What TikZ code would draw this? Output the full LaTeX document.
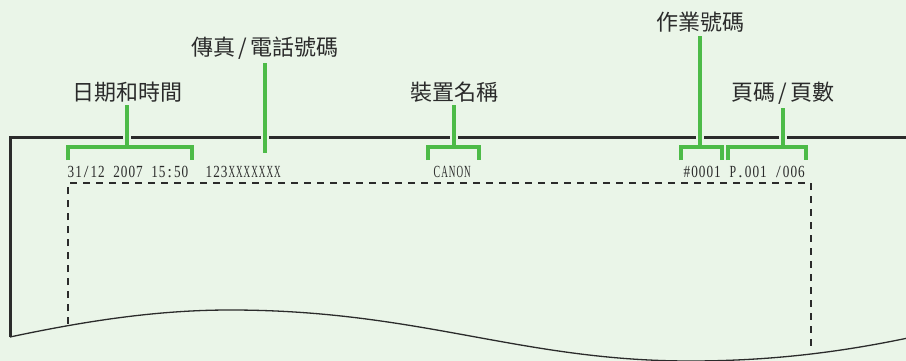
\documentclass[tikz,border=0pt]{standalone}
\usepackage{fontspec}
\usepackage{graphicx}
\setmainfont{Liberation Serif}
\newfontfamily\cjk{Noto Sans CJK TC}
\definecolor{bg}{HTML}{EAF5E8}
\definecolor{grn}{HTML}{4DBB48}
\definecolor{ink}{HTML}{2B2B2B}
\newlength\mcw
\newcommand\mch[1]{\settowidth\mcw{#1}%
  \ifdim\mcw>6.6pt\makebox[7.6pt]{\resizebox{6.6pt}{\height}{#1}}\else\makebox[7.6pt]{#1}\fi}
\def\mono#1{\monoi#1\relax}
\def\monoi#1{\ifx#1\relax\else\mch{#1}\expandafter\monoi\fi}
\begin{document}
\begin{tikzpicture}[x=1pt,y=-1pt,
  lbl/.style={font=\cjk\fontsize{22}{22}\selectfont, text=ink, inner sep=0pt, anchor=base},
  prt/.style={font=\fontsize{17}{17}\selectfont, text=ink, inner sep=0pt, anchor=base west},
  stem/.style={draw=grn, line width=4pt},
  halo/.style={draw=bg, line width=8pt},
  bracket/.style={draw=grn, line width=4pt, line join=miter},
  paper/.style={draw=ink, line width=3pt},
  edgeline/.style={draw=ink, line width=1.3pt},
  dashline/.style={draw=ink, line width=2pt, dash pattern=on 7pt off 6pt}
]
\fill[bg] (0,0) rectangle (906,361);
\useasboundingbox (0,0) rectangle (906,361);

% paper
\coordinate (pTR) at (908,137);
\coordinate (pTL) at (10,137);
\coordinate (pBL) at (10,337);
\coordinate (pBR) at (908,338);
\draw[paper] (pTR) -- (pTL) -- (pBL);
\draw[edgeline] (pBL) .. controls (90,320) and (160,310) .. (230,310)
  .. controls (420,310) and (520,361) .. (690,361)
  .. controls (780,361) and (850,350) .. (pBR);

% printed area
\coordinate (dBL) at (68,324);
\coordinate (dTL) at (68,183);
\coordinate (dTR) at (811,183);
\coordinate (dBR) at (811,346);
\draw[dashline] (dBL) -- (dTL) -- (dTR) -- (dBR);

% printed header texts
\node[prt] (t1) at (67,177) {\mono{31/12~2007~15:50}};
\node[prt] (t2) at (205,177) {\mono{123XXXXXXX}};
\node[prt] (t3) at (433,177) {\mono{CANON}};
\node[prt] (t4) at (683,177) {\mono{\#0001}};
\node[prt] (t5) at (729,177) {\mono{P.001~/006}};

% labels
\node[lbl] (l1) at (127,100) {日期和時間};
\node[lbl] (l2) at (265,56) {傳真\kern3pt/\kern3pt電話號碼};
\node[lbl] (l3) at (454,100) {裝置名稱};
\node[lbl] (l4) at (700,31) {作業號碼};
\node[lbl] (l5) at (783,101) {頁碼\kern3pt/\kern3pt頁數};

% bracket coordinates
\coordinate (b1) at (127,147); \coordinate (b1l) at (68,160); \coordinate (b1r) at (192,160);
\coordinate (b2) at (265,153);
\coordinate (b3) at (454,147); \coordinate (b3l) at (428,160); \coordinate (b3r) at (479,160);
\coordinate (b4) at (700,147); \coordinate (b4l) at (681,160); \coordinate (b4r) at (722,160);
\coordinate (b5) at (783,147); \coordinate (b5l) at (728,160); \coordinate (b5r) at (806,160);

% halos and stems
\foreach \l/\b in {l1/b1,l2/b2,l3/b3,l4/b4,l5/b5}{
  \draw[halo] ([yshift=-3pt]\l.south) -- (\b);
}
\foreach \l/\b in {l1/b1,l2/b2,l3/b3,l4/b4,l5/b5}{
  \draw[stem] ([yshift=-3pt]\l.south) -- (\b);
}
% brackets
\draw[bracket] (b1l) |- (b1) -| (b1r);
\draw[bracket] (b3l) |- (b3) -| (b3r);
\draw[bracket] (b4l) |- (b4) -| (b4r);
\draw[bracket] (b5l) |- (b5) -| (b5r);
\end{tikzpicture}
\end{document}
